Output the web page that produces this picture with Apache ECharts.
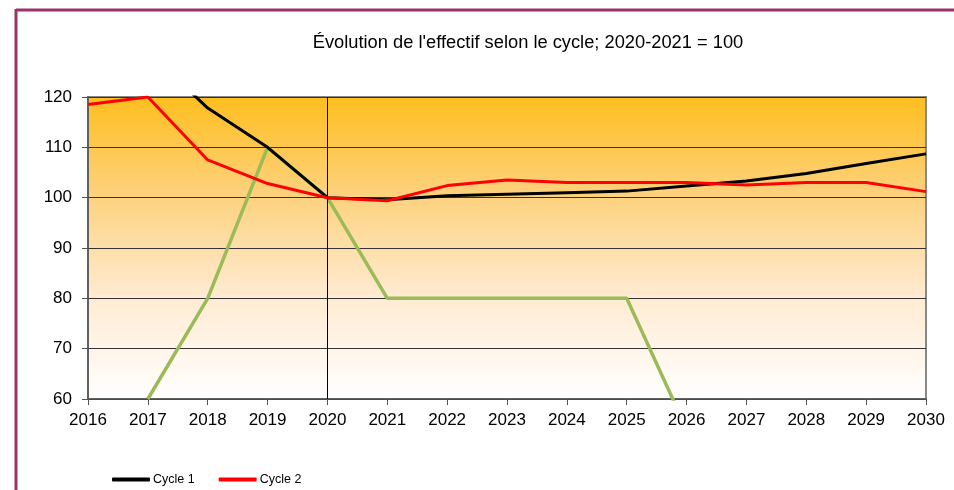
<!DOCTYPE html>
<html>
<head>
<meta charset="utf-8">
<script src="https://cdn.jsdelivr.net/npm/echarts@6/dist/echarts.min.js"></script>
<style>
html,body{margin:0;padding:0;background:#fff;}
#c{width:954px;height:490px;}
</style>
</head>
<body>
<div id="c"></div>
<script>
var years = ['2016','2017','2018','2019','2020','2021','2022','2023','2024','2025','2026','2027','2028','2029','2030'];
var cycle1 = [140, 129, 117.8, 110, 100, 99.6, 100.4, 100.7, 101, 101.3, 102.3, 103.3, 104.8, 106.8, 108.7];
var cycle2 = [118.5, 120, 107.5, 102.8, 100, 99.4, 102.4, 103.5, 103, 103, 103, 102.5, 103, 103, 101.2];
var cycle3 = [null, 60, 80, 110, 100, 80, 80, 80, 80, 80, 54, null, null, null, null];
var yTicks = {min: 60, max: 120, interval: 10};

var chart = echarts.init(document.getElementById('c'));
chart.setOption({
  animation: false,
  backgroundColor: '#fff',
  title: {
    text: "Évolution de l'effectif selon le cycle; 2020-2021 = 100",
    left: 523, top: 29, textAlign: 'center',
    textStyle: {fontFamily: 'Liberation Sans', fontSize: 18.3, fontWeight: 'normal', color: '#000'}
  },
  legend: {
    data: ['Cycle 1', 'Cycle 2'],
    left: 107, top: 468,
    itemWidth: 38, itemHeight: 4, itemGap: 24,
    icon: 'roundRect',
    textStyle: {fontFamily: 'Liberation Sans', fontSize: 12.5, color: '#000', padding: [0,0,0,-2]}
  },
  graphic: [
    {type: 'line', shape: {x1: 16, y1: 10, x2: 954, y2: 10}, style: {stroke: '#993366', lineWidth: 3}},
    {type: 'line', shape: {x1: 16, y1: 9, x2: 16, y2: 490}, style: {stroke: '#993366', lineWidth: 3}}
  ],
  grid: {
    left: 88, right: 28, top: 97, bottom: 91,
    show: true,
    borderColor: '#888', borderWidth: 2,
    backgroundColor: {
      type: 'linear', x: 0, y: 0, x2: 0, y2: 1,
      colorStops: [
        {offset: 0, color: '#FDBE1E'},
        {offset: 0.33, color: '#FDD27F'},
        {offset: 0.66, color: '#FFEBD2'},
        {offset: 1, color: '#FFFFFF'}
      ]
    }
  },
  xAxis: {
    type: 'category',
    data: years,
    boundaryGap: false,
    axisLine: {lineStyle: {color: '#555', width: 1.5}},
    axisTick: {show: true, length: 6, lineStyle: {color: '#555'}},
    axisLabel: {fontFamily: 'Liberation Sans', fontSize: 17, color: '#000', margin: 13},
    splitLine: {show: false}
  },
  yAxis: {
    type: 'value',
    min: yTicks.min, max: yTicks.max, interval: yTicks.interval,
    axisLine: {show: true, lineStyle: {color: '#555', width: 1.5}},
    axisTick: {show: true, length: 6, lineStyle: {color: '#555'}},
    axisLabel: {fontFamily: 'Liberation Sans', fontSize: 17, color: '#000', margin: 16},
    splitLine: {show: true, lineStyle: {color: '#333', width: 1}}
  },
  series: [
    {
      name: 'Cycle 3', type: 'line', data: cycle3, symbol: 'none',
      lineStyle: {color: '#9BBB59', width: 3.5}, itemStyle: {color: '#9BBB59'},
      markLine: {
        silent: true, symbol: 'none', label: {show: false},
        lineStyle: {color: '#000', width: 1, type: 'solid'},
        data: [{xAxis: '2020'}]
      },
      z: 2
    },
    {
      name: 'Cycle 1', type: 'line', data: cycle1, symbol: 'none',
      lineStyle: {color: '#000', width: 3}, itemStyle: {color: '#000'}, z: 3
    },
    {
      name: 'Cycle 2', type: 'line', data: cycle2, symbol: 'none',
      lineStyle: {color: '#FF0000', width: 3}, itemStyle: {color: '#FF0000'}, z: 4
    }
  ]
});
</script>
</body>
</html>
